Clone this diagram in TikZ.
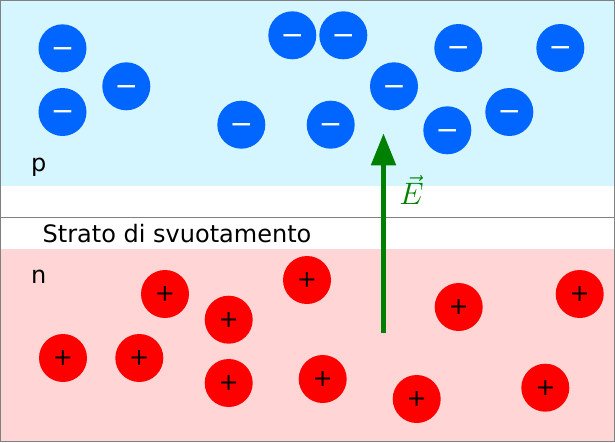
\RequirePackage{fix-cm}
\documentclass[tikz,border=0pt]{standalone}
\usepackage{fontspec}
\setmainfont{DejaVu Sans}
\usetikzlibrary{arrows.meta}

\definecolor{pside}{RGB}{213,246,255}
\definecolor{nside}{RGB}{255,213,213}
\definecolor{ionblue}{RGB}{0,102,255}
\definecolor{ionred}{RGB}{255,0,0}
\definecolor{fieldgreen}{RGB}{0,128,0}

\tikzset{
  ion/.style={circle, minimum size=48pt, inner sep=0pt, font=\fontsize{24}{24}\selectfont},
  acceptor/.style={ion, fill=ionblue, text=white, font=\fontsize{28}{28}\selectfont},
  donor/.style={ion, fill=ionred, text=black},
  region/.style={anchor=base west, inner sep=0pt, font=\fontsize{24}{28}\selectfont}
}

\begin{document}
\begin{tikzpicture}[x=1pt,y=-1pt]
\useasboundingbox (0,0) rectangle (615,442);

% Draw the two doped regions
\fill[pside] (0,0) rectangle (615,186);
\fill[nside] (0,249) rectangle (615,442);
\draw[gray] (0,217) -- (615,217);
\draw[gray] (0.5,0.5) rectangle (614.5,441.5);

% Label regions
\node[region] (p) at (31,171) {p};
\node[region] (n) at (31,283) {n};
\node[region] (strato) at (42.5,242) {Strato di svuotamento};

% Draw negative ions
\foreach \x/\y [count=\i] in {62.5/48.3, 126.3/86.3, 62.5/112, 292.3/35.3, 343.3/35.3,
    458.3/48, 560.3/48, 394/86.3, 241.3/124.7, 330.7/124.7, 447.3/130.3, 509.3/112} {
   \node[acceptor] (acc\i) at (\x,\y) {\raisebox{-8.9pt}[0pt][0pt]{−}};
}

% Draw positive ions
\foreach \x/\y [count=\i] in {165/294, 228.7/319.7, 307/280, 458.7/307, 579.7/294,
    63/358, 139.3/358, 228.7/383, 322.7/379, 416.7/399, 545.3/387.7} {
   \node[donor] (don\i) at (\x,\y) {+};
}

% Draw the electric field
\coordinate (Ebot) at (383.5,332.7);
\coordinate (Etop) at (383.5,133.3);
\draw[fieldgreen, line width=5pt, -{Triangle[length=32pt,width=24pt]}] (Ebot) -- (Etop);
\node[fieldgreen, font=\fontsize{31}{31}\selectfont] (E) at (411.5,190) {$\vec{E}$};

\end{tikzpicture}
\end{document}
